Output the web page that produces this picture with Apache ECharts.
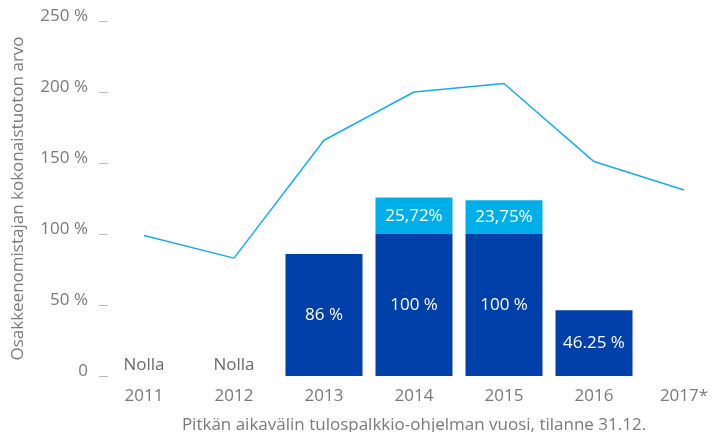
<!DOCTYPE html>
<html>
<head>
<meta charset="utf-8">
<script src="https://cdn.jsdelivr.net/npm/echarts@6/dist/echarts.min.js"></script>
<style>
  html, body { margin: 0; padding: 0; background: #fff; }
  #chart { width: 721px; height: 432px; }
</style>
</head>
<body>
<div id="chart"></div>
<script>
const years = ['2011', '2012', '2013', '2014', '2015', '2016', '2017*'];
const earnedBase = [0, 0, 86, 100, 100, 46.25, null];
const earnedExtra = [null, null, null, 25.72, 23.75, null, null];
const baseLabels = ['Nolla', 'Nolla', '86 %', '100 %', '100 %', '46.25 %', ''];
const extraLabels = ['', '', '', '25,72%', '23,75%', '', ''];
const tsrValue = [99, 83, 166, 200, 206, 151, 131];

const font = 'Open Sans';
const grey = '#7a7a7a';

const chart = echarts.init(document.getElementById('chart'));

chart.setOption({
    animation: false,
    textStyle: { fontFamily: font },
    grid: { left: 99, top: 21, width: 630, bottom: 56, containLabel: false, outerBoundsMode: 'none' },
    xAxis: {
        type: 'category',
        data: years,
        axisLine: { show: false },
        axisTick: { show: false },
        axisLabel: { color: grey, fontSize: 17, margin: 12, fontFamily: font },
        name: 'Pitkän aikavälin tulospalkkio-ohjelman vuosi, tilanne 31.12.',
        nameLocation: 'middle',
        nameGap: 41,
        nameTextStyle: { color: grey, fontSize: 17, fontFamily: font },
    },
    yAxis: {
        type: 'value',
        min: 0,
        max: 250,
        interval: 50,
        splitLine: { show: false },
        axisLine: { show: false },
        axisTick: { show: true, inside: true, length: 9, lineStyle: { color: '#bbb' } },
        axisLabel: {
            color: grey, fontSize: 17, margin: 11, fontFamily: font,
            verticalAlign: 'bottom',
            lineHeight: 9,
            formatter: v => v === 0 ? '0' : v + ' %',
        },
        name: 'Osakkeenomistajan kokonaistuoton arvo',
        nameLocation: 'middle',
        nameGap: 72,
        nameTextStyle: { color: grey, fontSize: 17, fontFamily: font },
    },
    series: [
        {
            type: 'bar',
            stack: 'earned',
            barWidth: 77,
            itemStyle: { color: '#0040a8' },
            data: earnedBase.map((v, i) => {
                if (v === 0) {
                    return {
                        value: v,
                        label: { show: true, position: 'top', distance: 2, color: '#6a6a6a', formatter: baseLabels[i] },
                    };
                }
                return {
                    value: v,
                    label: { show: v != null, position: 'inside', color: '#fff', formatter: baseLabels[i] },
                };
            }),
            label: { fontSize: 17, fontFamily: font },
        },
        {
            type: 'bar',
            stack: 'earned',
            barWidth: 77,
            itemStyle: { color: '#00afe9' },
            data: earnedExtra.map((v, i) => ({
                value: v,
                label: { show: v != null, position: 'inside', color: '#fff', formatter: extraLabels[i] },
            })),
            label: { fontSize: 17, fontFamily: font },
        },
        {
            type: 'line',
            data: tsrValue,
            symbol: 'none',
            lineStyle: { color: '#19ade8', width: 1.5 },
            z: 5,
        },
    ],
});
</script>
</body>
</html>
